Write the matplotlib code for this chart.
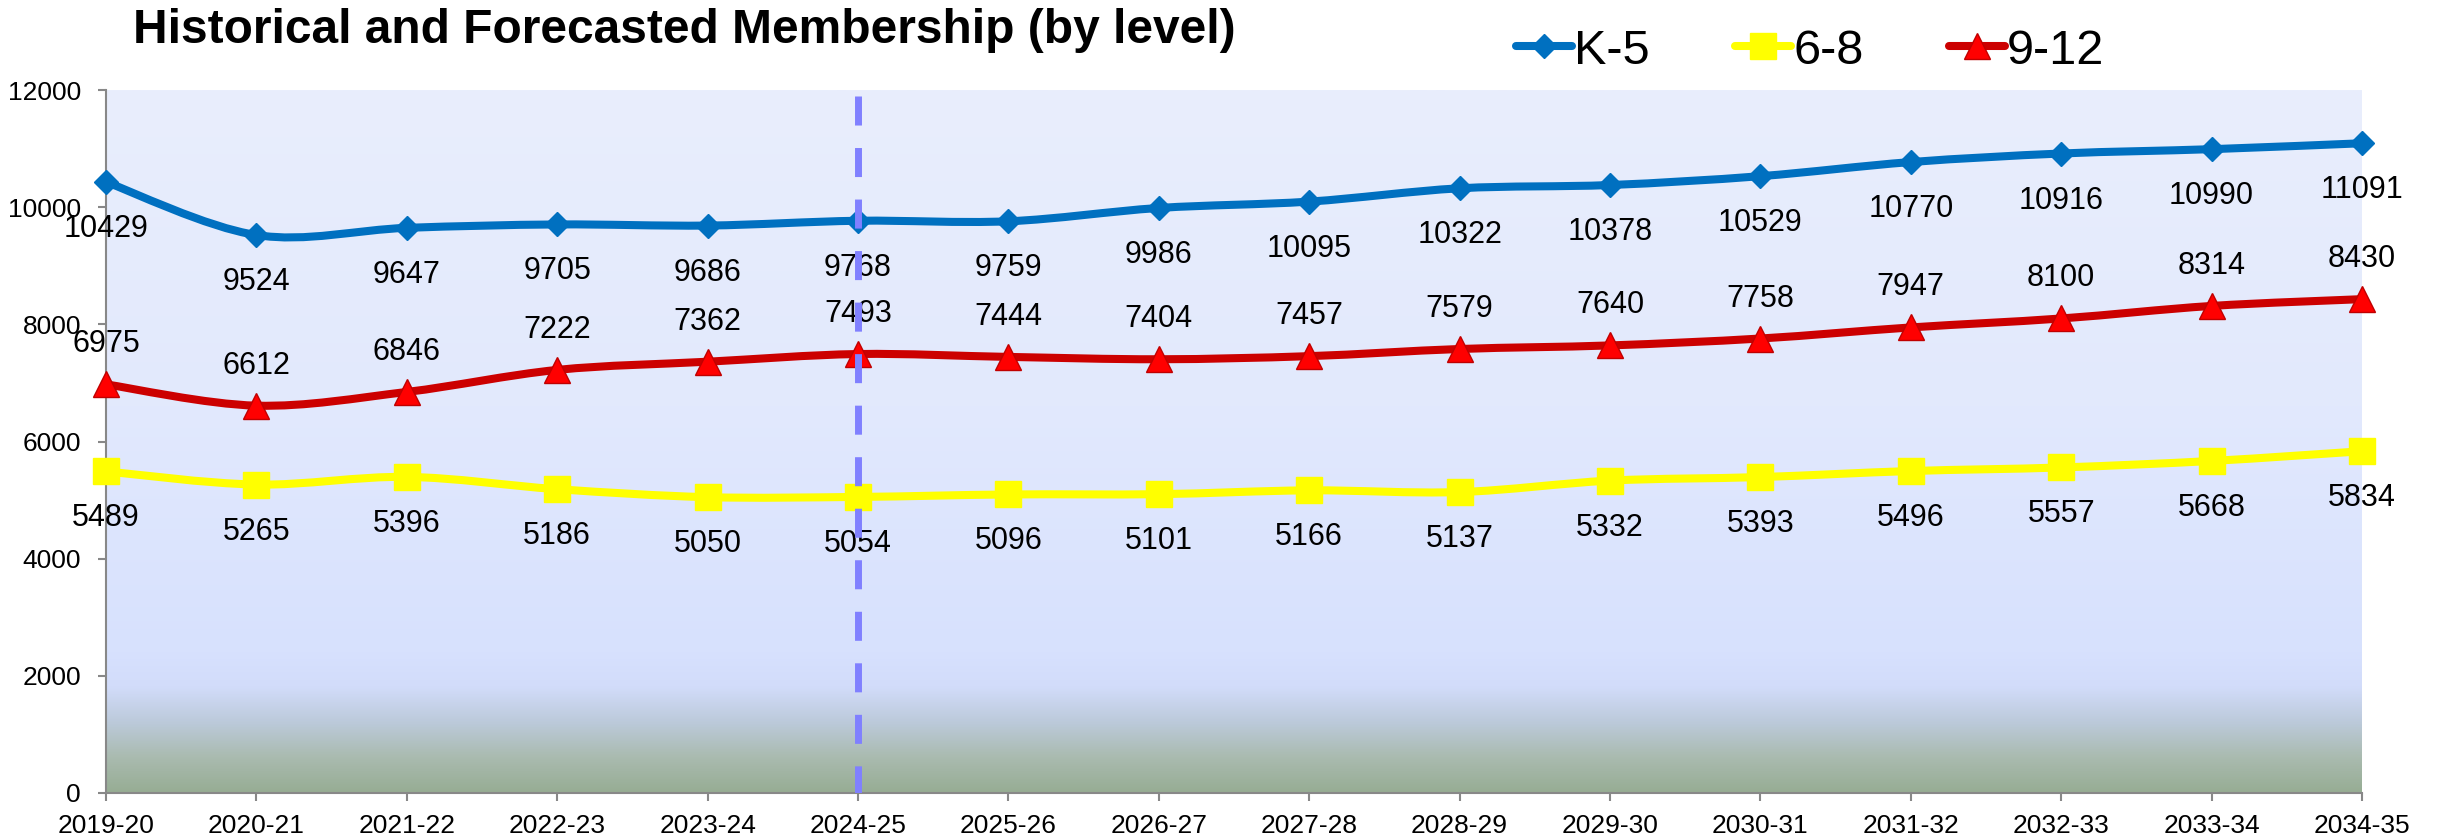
import numpy as np
import matplotlib
matplotlib.use('Agg')
import matplotlib.pyplot as plt
from matplotlib.path import Path
from matplotlib.patches import PathPatch
from matplotlib.lines import Line2D
from matplotlib.colors import LinearSegmentedColormap

plt.rcParams['font.family'] = ['Liberation Sans', 'DejaVu Sans']

# data
years = ['2019-20', '2020-21', '2021-22', '2022-23', '2023-24', '2024-25', '2025-26', '2026-27',
         '2027-28', '2028-29', '2029-30', '2030-31', '2031-32', '2032-33', '2033-34', '2034-35']
k5 = [10429, 9524, 9647, 9705, 9686, 9768, 9759, 9986, 10095, 10322, 10378, 10529, 10770, 10916, 10990, 11091]
g68 = [5489, 5265, 5396, 5186, 5050, 5054, 5096, 5101, 5166, 5137, 5332, 5393, 5496, 5557, 5668, 5834]
g912 = [6975, 6612, 6846, 7222, 7362, 7493, 7444, 7404, 7457, 7579, 7640, 7758, 7947, 8100, 8314, 8430]
forecast_start = '2024-25'
title = 'Historical and Forecasted Membership (by level)'


def smooth_path(xs, ys):
    # bezier path through the points, like the smoothed line option in a spreadsheet
    pts = np.column_stack([xs, ys]).astype(float)
    n = len(pts)
    verts = [pts[0]]
    codes = [Path.MOVETO]
    for i in range(n - 1):
        p0 = pts[max(i - 1, 0)]
        p1 = pts[i]
        p2 = pts[i + 1]
        p3 = pts[min(i + 2, n - 1)]
        verts += [p1 + (p2 - p0) / 6, p2 - (p3 - p1) / 6, p2]
        codes += [Path.CURVE4] * 3
    return Path(verts, codes)


fig = plt.figure(figsize=(24.38, 8.4), dpi=100)
ax = fig.add_axes([106 / 2438, 1 - 793 / 840, 2256 / 2438, 703 / 840])

x = np.arange(len(years))
ax.set_xlim(0, len(years) - 1)
ax.set_ylim(0, 12000)

# background gradient of the plot area
bg = LinearSegmentedColormap.from_list('bg', [
    (0.0, '#97ad94'), (0.05, '#aabbb0'), (0.10, '#bccadb'), (0.15, '#d2dcfa'),
    (0.20, '#d7e1fe'), (0.55, '#e2e9fd'), (1.0, '#e9eefc')])
grad = np.linspace(0, 1, 256).reshape(-1, 1)
ax.imshow(grad, cmap=bg, origin='lower', aspect='auto', extent=[0, len(years) - 1, 0, 12000], zorder=0)

series = [
    ('K-5', k5, '#0070c0', dict(marker='D', ms=12.5, mfc='#0070c0', mec='#0070c0'), -55),
    ('6-8', g68, '#ffff00', dict(marker='s', ms=19, mfc='#ffff00', mec='#ffff00'), -55),
    ('9-12', g912, '#cc0000', dict(marker='^', ms=19, mfc='#ff0000', mec='#c00000', mew=1), 32),
]

handles = []
for name, vals, col, mk, off in series:
    ax.add_patch(PathPatch(smooth_path(x, vals), facecolor='none', edgecolor=col, lw=5.8,
                           capstyle='round', joinstyle='round', clip_on=False, zorder=3))
    ax.plot(x, vals, ls='none', clip_on=False, zorder=4, **mk)
    for xi, v in zip(x, vals):
        ax.annotate(str(v), (xi, v), xytext=(0, off), textcoords='offset pixels',
                    ha='center', va='baseline', fontsize=22, color='black', zorder=5,
                    annotation_clip=False)
    handles.append(Line2D([], [], color=col, lw=5.8, solid_capstyle='round', **mk))

# divider between history and forecast
fx = years.index(forecast_start)
ax.plot([fx, fx], [11900, 0], color='#8080ff', lw=5, dashes=(4.18, 3.24), zorder=6,
        solid_capstyle='butt', dash_capstyle='butt')

for s in ['top', 'right']:
    ax.spines[s].set_visible(False)
for s in ['left', 'bottom']:
    ax.spines[s].set_color('#888888')
    ax.spines[s].set_linewidth(1.5)
ax.spines['left'].set_zorder(2)

ax.set_yticks(np.arange(0, 12001, 2000))
ax.set_xticks(x)
ax.set_xticklabels(years)
ax.tick_params(axis='y', direction='out', length=6, width=1.5, color='#888888', labelsize=19, pad=12)
ax.tick_params(axis='x', direction='out', length=6, width=1.5, color='#888888', labelsize=19, pad=9)

fig.text(133 / 2438, 1 - 43 / 840, title, fontsize=34.5, fontweight='bold', ha='left', va='baseline')

fig.legend(handles, [s[0] for s in series], loc='center left',
           bbox_to_anchor=(1516 / 2438, 1 - 51 / 840), ncol=3, frameon=False, fontsize=35,
           handlelength=1.15, handletextpad=0.05, columnspacing=1.75, borderpad=0,
           borderaxespad=0, numpoints=1)

fig.savefig('out.png', dpi=100)
